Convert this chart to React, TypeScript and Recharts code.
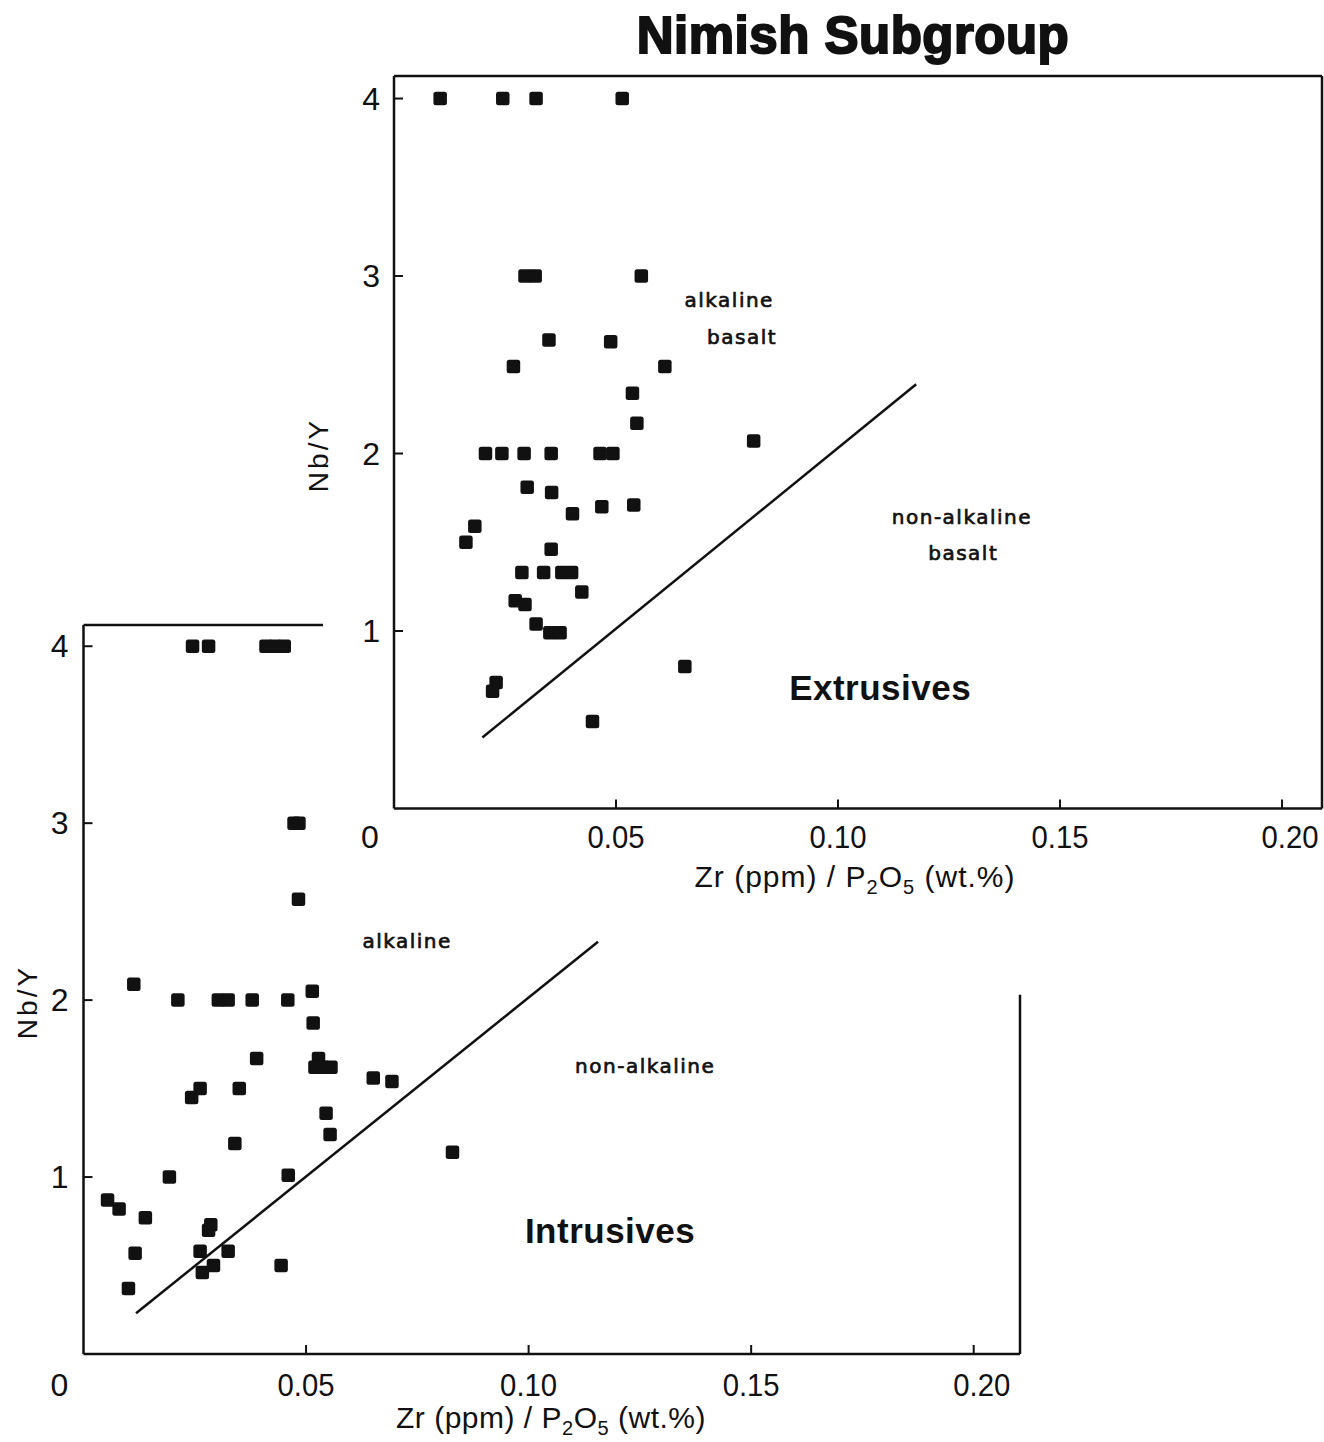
import React from "react"
import { ScatterChart, Scatter, XAxis, YAxis, ReferenceLine, ReferenceDot } from "recharts"

// Extrusives (upper panel), Zr/P2O5 vs Nb/Y
const extX = [
  0.0104, 0.0245, 0.032, 0.0514, 0.0295, 0.0318, 0.0557, 0.0349, 0.0488, 0.0269, 0.061, 0.0537, 0.0547, 0.081,
  0.0206, 0.0243, 0.0293, 0.0354, 0.0464, 0.0493, 0.03, 0.0355, 0.0468, 0.054, 0.0402, 0.0182, 0.0162, 0.0354,
  0.0288, 0.0337, 0.0378, 0.04, 0.0423, 0.0273, 0.0295, 0.032, 0.0351, 0.0374, 0.023, 0.0222, 0.0655, 0.0447,
]
const extY = [
  4, 4, 4, 4, 3, 3, 3, 2.64, 2.63, 2.49, 2.49, 2.34, 2.17, 2.07,
  2, 2, 2, 2, 2, 2, 1.81, 1.78, 1.7, 1.71, 1.66, 1.59, 1.5, 1.46,
  1.33, 1.33, 1.33, 1.33, 1.22, 1.17, 1.15, 1.04, 0.99, 0.99, 0.71, 0.66, 0.8, 0.49,
]

// Intrusives (lower panel)
const intX = [
  0.0245, 0.0281, 0.041, 0.043, 0.0451, 0.0473, 0.0484, 0.0483, 0.0113, 0.0212, 0.0303, 0.0325, 0.0379, 0.0459,
  0.0514, 0.0516, 0.0389, 0.0528, 0.052, 0.0538, 0.0556, 0.0651, 0.0693, 0.0262, 0.0243, 0.035, 0.0545, 0.0554,
  0.034, 0.0829, 0.0193, 0.046, 0.0054, 0.008, 0.0139, 0.0286, 0.0281, 0.0116, 0.0262, 0.0325, 0.0292, 0.0267,
  0.0444, 0.0101,
]
const intY = [
  4, 4, 4, 4, 4, 3, 3, 2.57, 2.09, 2, 2, 2, 2, 2,
  2.05, 1.87, 1.67, 1.67, 1.62, 1.62, 1.62, 1.56, 1.54, 1.5, 1.45, 1.5, 1.36, 1.24,
  1.19, 1.14, 1.0, 1.01, 0.87, 0.82, 0.77, 0.73, 0.7, 0.57, 0.58, 0.58, 0.5, 0.46,
  0.5, 0.37,
]

// alkaline / non-alkaline dividing lines
const extLine = [{ x: 0.0199, y: 0.4 }, { x: 0.1176, y: 2.39 }]
const intLine = [{ x: 0.0118, y: 0.23 }, { x: 0.1156, y: 2.33 }]

const xTicks = [0, 0.05, 0.1, 0.15, 0.2]
const yTicks = [1, 2, 3, 4]

const extFields = [
  { text: "alkaline", x: 0.0755, y: 2.865 },
  { text: "basalt", x: 0.0784, y: 2.657 },
  { text: "non-alkaline", x: 0.1279, y: 1.642 },
  { text: "basalt", x: 0.1282, y: 1.44 },
]
const intFields = [
  { text: "alkaline", x: 0.0727, y: 2.333 },
  { text: "non-alkaline", x: 0.1262, y: 1.627 },
]
const extName = { text: "Extrusives", x: 0.1095, y: 0.679 }
const intName = { text: "Intrusives", x: 0.1183, y: 0.7 }

const INK = "#111"
const tickFont = "'Liberation Sans', Arial, sans-serif"
const fieldFont = "'DejaVu Sans', sans-serif"

function Square(props: any) {
  const { cx, cy } = props
  if (cx == null || cy == null) return <g />
  return <rect x={cx - 6.75} y={cy - 6.75} width={13.5} height={13.5} rx={2.5} fill={INK} />
}

function XTick(props: any) {
  const { x, y, payload, gap } = props
  const v = payload.value as number
  const axisY = y - gap
  const dx = v === 0 ? -24 : v === 0.2 ? 8 : 0
  const label = v === 0 ? "0" : v.toFixed(2)
  return (
    <g>
      {v !== 0 && <line x1={x} x2={x} y1={axisY} y2={axisY - 9} stroke={INK} strokeWidth={2} />}
      <text
        x={x + dx}
        y={y}
        textAnchor="middle"
        dominantBaseline="central"
        fontFamily={tickFont}
        fontSize={32}
        fill={INK}
        {...(label.length > 1 ? { textLength: 57, lengthAdjust: "spacingAndGlyphs" } : {})}
      >
        {label}
      </text>
    </g>
  )
}

function YTick(props: any) {
  const { x, y, payload, gap } = props
  const axisX = x + gap
  return (
    <g>
      <line x1={axisX} x2={axisX + 9} y1={y} y2={y} stroke={INK} strokeWidth={2} />
      <text x={x} y={y} textAnchor="end" dominantBaseline="central" fontFamily={tickFont} fontSize={32} fill={INK}>
        {payload.value}
      </text>
    </g>
  )
}

function fieldLabel(f: { text: string; x: number; y: number }, bold: boolean, key: string) {
  return (
    <ReferenceDot
      key={key}
      x={f.x}
      y={f.y}
      r={0}
      shape={(p: any) => (
        <text
          x={p.cx}
          y={p.cy}
          textAnchor="middle"
          dominantBaseline="central"
          fontFamily={bold ? tickFont : fieldFont}
          fontWeight={bold ? 700 : 400}
          fontSize={bold ? 35 : 20}
          letterSpacing={bold ? 0.5 : 1.5}
          stroke={bold ? "none" : INK}
          strokeWidth={bold ? 0 : 0.7}
          fill={INK}
        >
          {f.text}
        </text>
      )}
    />
  )
}

const absText = (left: number, top: number, extra: React.CSSProperties = {}): React.CSSProperties => ({
  position: "absolute",
  left,
  top,
  transform: "translate(-50%, -50%)",
  whiteSpace: "nowrap",
  fontFamily: tickFont,
  color: INK,
  ...extra,
})

const subStyle: React.CSSProperties = { fontSize: 20 }

export default function App() {
  const extData = extX.map((x, i) => ({ x, y: extY[i] }))
  const intData = intX.map((x, i) => ({ x, y: intY[i] }))
  const extXMax = 0.209
  const extYMax = 4.127
  const intXMax = 0.2104
  const intYMax = 4.12
  const axisStyle = { stroke: INK, strokeWidth: 2.5 }

  return (
    <div style={{ position: "absolute", left: 0, top: 0, width: 1324, height: 1442, background: "#fff", overflow: "hidden" }}>
      {/* lower panel: intrusives */}
      <div style={{ position: "absolute", left: 0, top: 600 }}>
        <ScatterChart width={1080} height={842} margin={{ top: 25, right: 60, bottom: 28, left: 23.5 }}>
          <XAxis
            type="number"
            dataKey="x"
            domain={[0, intXMax]}
            ticks={xTicks}
            height={60}
            tickSize={0}
            tickMargin={31}
            tickLine={false}
            axisLine={axisStyle}
            allowDataOverflow
            tick={(p: any) => <XTick {...p} gap={31} />}
          />
          <YAxis
            type="number"
            dataKey="y"
            domain={[0, intYMax]}
            ticks={yTicks}
            width={60}
            tickSize={0}
            tickMargin={15}
            tickLine={false}
            axisLine={axisStyle}
            allowDataOverflow
            tick={(p: any) => <YTick {...p} gap={15} />}
          />
          <ReferenceLine segment={[{ x: 0, y: intYMax }, { x: 0.0538, y: intYMax }]} stroke={INK} strokeWidth={2.5} ifOverflow="visible" />
          <ReferenceLine segment={[{ x: intXMax, y: 0 }, { x: intXMax, y: 2.03 }]} stroke={INK} strokeWidth={2.5} ifOverflow="visible" />
          <ReferenceLine segment={intLine} stroke={INK} strokeWidth={2.5} ifOverflow="visible" />
          <Scatter data={intData} shape={Square} isAnimationActive={false} />
          {intFields.map((f, i) => fieldLabel(f, false, "if" + i))}
          {fieldLabel(intName, true, "in")}
        </ScatterChart>
      </div>

      {/* upper panel: extrusives */}
      <div style={{ position: "absolute", left: 300, top: 60 }}>
        <ScatterChart width={1024} height={880} margin={{ top: 16, right: 2, bottom: 71.5, left: 34 }}>
          <XAxis
            type="number"
            dataKey="x"
            domain={[0, extXMax]}
            ticks={xTicks}
            height={60}
            tickSize={0}
            tickMargin={28}
            tickLine={false}
            axisLine={axisStyle}
            allowDataOverflow
            tick={(p: any) => <XTick {...p} gap={28} />}
          />
          <YAxis
            type="number"
            dataKey="y"
            domain={[0, extYMax]}
            ticks={yTicks}
            width={60}
            tickSize={0}
            tickMargin={14}
            tickLine={false}
            axisLine={axisStyle}
            allowDataOverflow
            tick={(p: any) => <YTick {...p} gap={14} />}
          />
          <ReferenceLine y={extYMax} stroke={INK} strokeWidth={2.5} ifOverflow="visible" />
          <ReferenceLine x={extXMax} stroke={INK} strokeWidth={2.5} ifOverflow="visible" />
          <ReferenceLine segment={extLine} stroke={INK} strokeWidth={2.5} ifOverflow="visible" />
          <Scatter data={extData} shape={Square} isAnimationActive={false} />
          {extFields.map((f, i) => fieldLabel(f, false, "ef" + i))}
          {fieldLabel(extName, true, "en")}
        </ScatterChart>
      </div>

      <div style={absText(853, 35, { fontSize: 51, fontWeight: 900, WebkitTextStroke: "2px #111", letterSpacing: 0.5 })}>
        Nimish Subgroup
      </div>

      <div style={absText(855, 879, { fontSize: 30, letterSpacing: 1 })}>
        Zr (ppm) / P<sub style={subStyle}>2</sub>O<sub style={subStyle}>5</sub> (wt.%)
      </div>
      <div style={absText(551, 1420, { fontSize: 30, letterSpacing: 0.5 })}>
        Zr (ppm) / P<sub style={subStyle}>2</sub>O<sub style={subStyle}>5</sub> (wt.%)
      </div>

      <div style={{ ...absText(319, 455, { fontSize: 28, letterSpacing: 3 }), transform: "translate(-50%, -50%) rotate(-90deg)" }}>
        Nb/Y
      </div>
      <div style={{ ...absText(28, 1002, { fontSize: 28, letterSpacing: 3 }), transform: "translate(-50%, -50%) rotate(-90deg)" }}>
        Nb/Y
      </div>
    </div>
  )
}
